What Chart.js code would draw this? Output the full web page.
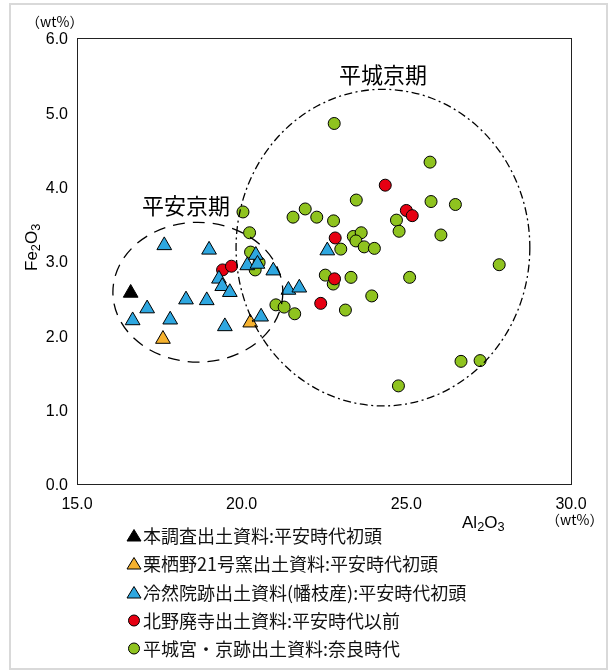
<!DOCTYPE html>
<html>
<head>
<meta charset="utf-8">
<script src="https://cdn.jsdelivr.net/npm/chart.js@4.4.1/dist/chart.umd.min.js"></script>
<style>
  html, body { margin: 0; padding: 0; background: #fff; }
  #wrap { position: relative; width: 608px; height: 670px; overflow: hidden; font-family: "Liberation Sans", Arial, sans-serif; color: #000; }
  #frame { position: absolute; left: 9px; top: 3px; width: 595px; height: 663px; border: 2px solid #d9d9d9; }
  #chart { position: absolute; left: 0; top: 0; }
  .lbl { position: absolute; white-space: nowrap; line-height: 1; }
  .cjk { font-family: "Noto Sans CJK JP", "Noto Sans", sans-serif; }
  .legend-row { position: absolute; left: 126px; height: 20px; display: flex; align-items: center; font-family: "Noto Sans CJK JP", sans-serif; font-size: 18px; white-space: nowrap; color: #111; }
  .legend-row svg { margin-right: 1px; }
  sub { font-size: 75%; vertical-align: -0.25em; }
</style>
</head>
<body>
<div id="wrap">
  <div id="frame"></div>
  <canvas id="chart" width="608" height="670"></canvas>

  <div class="lbl cjk" style="left:26px; top:14px; font-size:14px;">（wt%）</div>
  <div class="lbl cjk" style="left:546px; top:512px; font-size:14px;">（wt%）</div>
  <div class="lbl" style="left:462px; top:514px; font-size:17px;">Al<sub>2</sub>O<sub>3</sub></div>
  <div class="lbl" style="left:8px; top:236px; font-size:17px; transform: rotate(-90deg); transform-origin: 25px 10px;">Fe<sub>2</sub>O<sub>3</sub></div>

  <div class="lbl cjk" style="left:142px; top:193px; font-size:22px;">平安京期</div>
  <div class="lbl cjk" style="left:339px; top:62px; font-size:22px;">平城京期</div>

  <div id="legend"></div>
</div>

<script>
// Al2O3 (x) and Fe2O3 (y) contents in wt%, one pair of arrays per sample group
const seriesNames = [
  '本調査出土資料:平安時代初頭',
  '栗栖野21号窯出土資料:平安時代初頭',
  '冷然院跡出土資料(幡枝産):平安時代初頭',
  '北野廃寺出土資料:平安時代以前',
  '平城宮・京跡出土資料:奈良時代'
];

const honchosaAl = [16.63];
const honchosaFe = [2.57];

const kurisunoAl = [17.61, 20.26];
const kurisunoFe = [1.95, 2.17];

const reizeiinAl = [17.65, 19.01, 17.13, 16.69, 17.83, 18.31, 18.94, 19.49, 19.31, 19.41,
                    19.64, 20.17, 20.43, 20.48, 20.96, 21.42, 21.75, 20.59, 22.60];
const reizeiinFe = [3.21, 3.15, 2.36, 2.20, 2.21, 2.48, 2.47, 2.12, 2.76, 2.66,
                    2.58, 2.94, 3.08, 2.96, 2.87, 2.61, 2.64, 2.25, 3.14];

const kitanoAl = [19.42, 19.69, 24.36, 25.00, 25.18, 22.84, 22.82, 22.40];
const kitanoFe = [2.88, 2.93, 4.02, 3.68, 3.61, 3.31, 2.76, 2.43];

const heijoAl = [22.81, 25.72, 23.48, 25.75, 26.49, 20.04, 21.93, 21.56, 22.28, 22.79,
                 24.70, 24.78, 26.05, 20.24, 23.39, 23.63, 23.47, 23.72, 24.03, 23.01,
                 20.27, 20.53, 20.41, 27.82, 25.10, 22.54, 22.78, 23.32, 23.95, 21.04,
                 21.29, 21.61, 23.15, 26.66, 27.24, 24.76];
const heijoFe = [4.85, 4.33, 3.82, 3.80, 3.76, 3.66, 3.70, 3.59, 3.59, 3.54,
                 3.55, 3.40, 3.35, 3.38, 3.33, 3.38, 3.27, 3.19, 3.17, 3.16,
                 3.12, 2.98, 2.88, 2.95, 2.78, 2.81, 2.69, 2.78, 2.53, 2.41,
                 2.38, 2.29, 2.34, 1.65, 1.66, 1.32];

// Axis ranges and tick labels
const xTicks = [15, 20, 25, 30];
const yTicks = [0, 1, 2, 3, 4, 5, 6];

// Group outlines: [centre Al2O3, centre Fe2O3, half-width, half-height] in wt%
const heiankyoOutline = [18.67, 2.58, 2.58, 0.94];
const heijokyoOutline = [24.29, 3.18, 4.46, 2.13];

const colors = ['#000000', '#f6b22f', '#2ea7e0', '#e60012', '#8fc31f'];
const shapes = ['triangle', 'triangle', 'triangle', 'circle', 'circle'];

function pairs(xs, ys) { return xs.map((x, i) => ({ x: x, y: ys[i] })); }

const groups = [
  pairs(honchosaAl, honchosaFe),
  pairs(kurisunoAl, kurisunoFe),
  pairs(reizeiinAl, reizeiinFe),
  pairs(kitanoAl, kitanoFe),
  pairs(heijoAl, heijoFe)
];

const datasets = groups.map((pts, i) => ({
  label: seriesNames[i],
  data: pts,
  pointStyle: shapes[i],
  pointRadius: shapes[i] === 'triangle' ? 8.5 : 6,
  pointBackgroundColor: colors[i],
  pointBorderColor: '#000',
  pointBorderWidth: 1,
  showLine: false
}));

// Plot frame around the whole chart area
const framePlugin = {
  id: 'frame',
  beforeDatasetsDraw(chart) {
    const a = chart.chartArea, ctx = chart.ctx;
    ctx.save();
    ctx.strokeStyle = '#222';
    ctx.lineWidth = 1;
    ctx.strokeRect(Math.round(a.left) + 0.5, Math.round(a.top) + 0.5,
                   Math.round(a.right - a.left), Math.round(a.bottom - a.top));
    ctx.restore();
  }
};

// Dashed outlines of the two period groups, placed on the data scales
const outlinePlugin = {
  id: 'outlines',
  afterDatasetsDraw(chart) {
    const xs = chart.scales.x, ys = chart.scales.y, ctx = chart.ctx;
    function draw(o, dash) {
      const cx = xs.getPixelForValue(o[0]);
      const cy = ys.getPixelForValue(o[1]);
      const rx = xs.getPixelForValue(o[0] + o[2]) - cx;
      const ry = cy - ys.getPixelForValue(o[1] + o[3]);
      ctx.save();
      ctx.strokeStyle = '#000';
      ctx.lineWidth = 1.3;
      ctx.setLineDash(dash);
      ctx.beginPath();
      ctx.ellipse(cx, cy, rx, ry, 0, 0, Math.PI * 2);
      ctx.stroke();
      ctx.restore();
    }
    draw(heiankyoOutline, [12, 8]);
    draw(heijokyoOutline, [8, 3.5, 2, 3.5]);
  }
};

new Chart(document.getElementById('chart'), {
  type: 'scatter',
  data: { datasets: datasets },
  plugins: [framePlugin, outlinePlugin],
  options: {
    responsive: false,
    animation: false,
    devicePixelRatio: 1,
    layout: { padding: { left: 0, right: 37, top: 38, bottom: 156 } },
    plugins: { legend: { display: false }, tooltip: { enabled: false } },
    scales: {
      x: {
        type: 'linear', min: xTicks[0], max: xTicks[xTicks.length - 1],
        afterBuildTicks(s) { s.ticks = xTicks.map(v => ({ value: v })); },
        afterFit(s) { s.height = 30; },
        grid: { display: false, drawTicks: false },
        border: { display: false },
        ticks: { color: '#000', padding: 11, font: { family: '"Liberation Sans", Arial, sans-serif', size: 16 },
                 callback: v => Number(v).toFixed(1), maxRotation: 0 }
      },
      y: {
        type: 'linear', min: yTicks[0], max: yTicks[yTicks.length - 1],
        afterBuildTicks(s) { s.ticks = yTicks.map(v => ({ value: v })); },
        afterFit(s) { s.width = 77; },
        grid: { display: false, drawTicks: false },
        border: { display: false },
        ticks: { color: '#000', padding: 9, labelOffset: 2, font: { family: '"Liberation Sans", Arial, sans-serif', size: 16 },
                 callback: v => Number(v).toFixed(1) }
      }
    }
  }
});

// Legend list below the plot
const legendTops = [525, 553, 582, 610, 638];
const legend = document.getElementById('legend');
seriesNames.forEach((name, i) => {
  const row = document.createElement('div');
  row.className = 'legend-row';
  row.style.top = legendTops[i] + 'px';
  let marker;
  if (shapes[i] === 'triangle') {
    marker = '<svg width="16" height="14"><polygon points="8,1.5 15,13 1,13" fill="' + colors[i] + '" stroke="#000" stroke-width="1"/></svg>';
  } else {
    marker = '<svg width="16" height="14"><circle cx="8" cy="7.5" r="5.5" fill="' + colors[i] + '" stroke="#000" stroke-width="1"/></svg>';
  }
  row.innerHTML = marker + '<span>' + name + '</span>';
  legend.appendChild(row);
});
</script>
</body>
</html>
